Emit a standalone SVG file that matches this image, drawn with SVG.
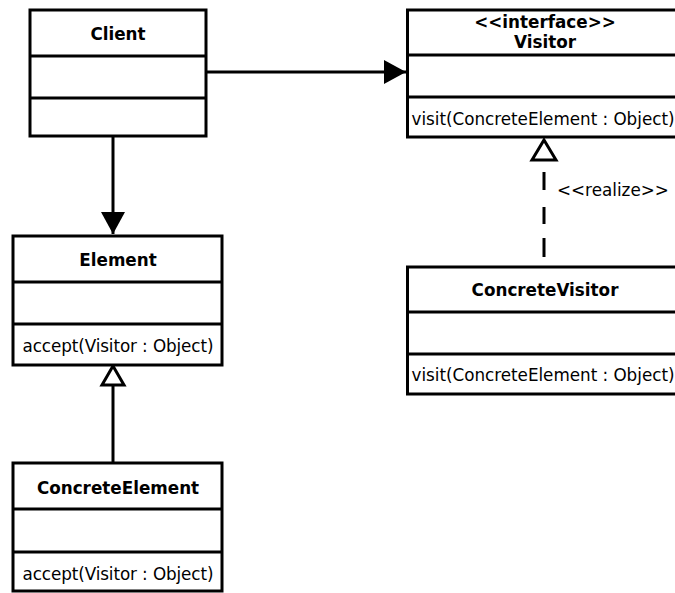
<svg xmlns="http://www.w3.org/2000/svg" width="675" height="593" viewBox="0 0 675 593">
<defs>
<style>
.box{fill:#fff;stroke:#000;stroke-width:3}
.div{stroke:#000;stroke-width:3}
.t{font-family:"DejaVu Sans",sans-serif;font-size:16.8px;fill:#000}
.b{font-weight:bold;text-anchor:middle}
.conn{stroke:#000;stroke-width:3;fill:none}
</style>
<marker id="filled" markerWidth="24" markerHeight="26" refX="22" refY="12" orient="auto" markerUnits="userSpaceOnUse"><path d="M0,0 L22,12 L0,24 Z" fill="#000"/></marker>
</defs>
<rect width="675" height="593" fill="#fff"/>
<g id="connectors">
<line class="conn" x1="206" y1="72" x2="406" y2="72" marker-end="url(#filled)"/>
<line class="conn" x1="113" y1="136" x2="113" y2="234" marker-end="url(#filled)"/>
<line class="conn" x1="544" y1="172" x2="544" y2="258" stroke-dasharray="18,17,17,14,19,100"/>
<path d="M544,140 L556,160 L532,160 Z" fill="#fff" stroke="#000" stroke-width="3"/>
<text class="t" x="557" y="196">&lt;&lt;realize&gt;&gt;</text>
<line class="conn" x1="113" y1="385" x2="113" y2="463"/>
<path d="M113,366 L124,385 L102,385 Z" fill="#fff" stroke="#000" stroke-width="3"/>
</g>
<g id="client">
<rect class="box" x="30" y="10" width="176" height="126"/>
<line class="div" x1="30" y1="56" x2="206" y2="56"/>
<line class="div" x1="30" y1="98" x2="206" y2="98"/>
<text class="t b" x="118" y="40">Client</text>
</g>
<g id="visitor">
<rect class="box" x="407.5" y="10" width="276" height="127"/>
<line class="div" x1="407.5" y1="55" x2="684" y2="55"/>
<line class="div" x1="407.5" y1="97" x2="684" y2="97"/>
<text class="t b" x="545" y="28">&lt;&lt;interface&gt;&gt;</text>
<text class="t b" x="545" y="48">Visitor</text>
<text class="t" x="411.5" y="125" textLength="263">visit(ConcreteElement : Object)</text>
</g>
<g id="concretevisitor">
<rect class="box" x="407.5" y="267" width="276" height="127"/>
<line class="div" x1="407.5" y1="312" x2="684" y2="312"/>
<line class="div" x1="407.5" y1="354" x2="684" y2="354"/>
<text class="t b" x="545" y="296">ConcreteVisitor</text>
<text class="t" x="411.5" y="381" textLength="263">visit(ConcreteElement : Object)</text>
</g>
<g id="element">
<rect class="box" x="13" y="236" width="209" height="129"/>
<line class="div" x1="13" y1="282" x2="222" y2="282"/>
<line class="div" x1="13" y1="324" x2="222" y2="324"/>
<text class="t b" x="118" y="266">Element</text>
<text class="t" x="22.5" y="352" textLength="191">accept(Visitor : Object)</text>
</g>
<g id="concreteelement">
<rect class="box" x="13" y="463" width="209" height="128"/>
<line class="div" x1="13" y1="509" x2="222" y2="509"/>
<line class="div" x1="13" y1="552" x2="222" y2="552"/>
<text class="t b" x="118" y="494">ConcreteElement</text>
<text class="t" x="22.5" y="580" textLength="191">accept(Visitor : Object)</text>
</g>
</svg>
